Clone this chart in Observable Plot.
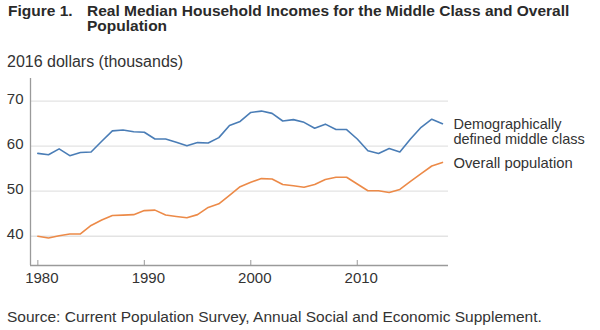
<!DOCTYPE html>
<html><head><meta charset="utf-8">
<script src="https://cdn.jsdelivr.net/npm/d3@7"></script>
<script src="https://cdn.jsdelivr.net/npm/@observablehq/plot@0.6"></script>
<style>
body{margin:0;width:600px;height:330px;overflow:hidden;background:#fff;font-family:"Liberation Sans",Arial,sans-serif;position:relative}
.t{position:absolute;white-space:nowrap;color:#2a2a2a}
.h{font-weight:bold;font-size:15.5px;line-height:14px}
#chart{position:absolute;left:0;top:70px}
</style></head><body>
<div class="t h" style="left:8px;top:4px">Figure 1.</div>
<div class="t h" style="left:87px;top:4px">Real Median Household Incomes for the Middle Class and Overall</div>
<div class="t h" style="left:87px;top:19px">Population</div>
<div class="t" style="left:7px;top:54px;font-size:16px;line-height:16px;color:#333">2016 dollars (thousands)</div>
<div id="chart"></div>
<div class="t" style="left:7px;top:309px;font-size:15.5px;line-height:16px;color:#333">Source: Current Population Survey, Annual Social and Economic Supplement.</div>
<script>
const years = [1980,1981,1982,1983,1984,1985,1986,1987,1988,1989,1990,1991,1992,1993,1994,1995,1996,1997,1998,1999,2000,2001,2002,2003,2004,2005,2006,2007,2008,2009,2010,2011,2012,2013,2014,2015,2016,2017,2018];
const middleClass = [58.4,58.1,59.4,57.9,58.6,58.7,61.1,63.4,63.6,63.2,63.1,61.6,61.6,60.9,60.1,60.8,60.7,61.9,64.6,65.5,67.5,67.8,67.3,65.6,65.9,65.3,64.0,64.9,63.7,63.7,61.6,59.0,58.4,59.5,58.7,61.6,64.2,66.0,65.0];
const overall = [40.0,39.6,40.1,40.5,40.5,42.4,43.6,44.6,44.7,44.8,45.7,45.8,44.7,44.4,44.1,44.8,46.4,47.2,49.1,51.0,52.0,52.8,52.7,51.5,51.2,50.9,51.5,52.6,53.1,53.1,51.6,50.1,50.1,49.7,50.4,52.2,53.9,55.6,56.4];
const seriesNames = ["Demographically\ndefined middle class", "Overall population"];
const seriesColors = ["#4a7db6", "#ec8a48"];
const xTicks = [1980, 1990, 2000, 2010];
const yTicks = [40, 50, 60, 70];
const xDomain = [1979.31, 2018.57];
const yDomain = [33.5, 75.04];

const rows = [];
years.forEach((yr, i) => {
  rows.push({year: yr, value: middleClass[i], series: seriesNames[0]});
  rows.push({year: yr, value: overall[i], series: seriesNames[1]});
});
const last = years.length - 1;
const labels = [
  {year: years[last], value: middleClass[last], series: seriesNames[0]},
  {year: years[last], value: overall[last], series: seriesNames[1]}
];

const chart = Plot.plot({
  width: 600, height: 215,
  marginTop: 8, marginBottom: 20, marginLeft: 30, marginRight: 152,
  style: {fontFamily: '"Liberation Sans", Arial, sans-serif', fontSize: "15px", color: "#333", background: "transparent"},
  x: {domain: xDomain},
  y: {domain: yDomain},
  color: {domain: seriesNames, range: seriesColors},
  marks: [
    Plot.ruleY(yTicks, {stroke: "#e3e3e3", strokeWidth: 1.3}),
    Plot.ruleX([xDomain[0]], {stroke: "#9a9a9a", strokeWidth: 1.3}),
    Plot.ruleY([yDomain[0]], {stroke: "#9a9a9a", strokeWidth: 1.3}),
    Plot.axisX({ticks: xTicks, tickSize: 5, dy: -5, tickFormat: () => "", stroke: "#9a9a9a", label: null}),
    Plot.axisX({ticks: xTicks, tickSize: 0, tickPadding: 7, dx: 4, tickFormat: d => String(d), fill: "#333", label: null}),
    Plot.axisY({ticks: yTicks, tickSize: 0, tickPadding: 7, dy: -2, fill: "#333", label: null}),
    Plot.line(rows, {x: "year", y: "value", z: "series", stroke: "series", strokeWidth: 1.6}),
    Plot.text(labels.slice(0,1), {x: "year", y: "value", text: "series", dx: 11, dy: 8, textAnchor: "start", lineAnchor: "middle", lineHeight: 1, fontSize: 14.5, fill: "#333"}),
    Plot.text(labels.slice(1), {x: "year", y: "value", text: "series", dx: 11, dy: 1, textAnchor: "start", lineAnchor: "middle", fontSize: 14.8, fill: "#333"})
  ]
});
document.getElementById("chart").appendChild(chart);
</script>
</body></html>
